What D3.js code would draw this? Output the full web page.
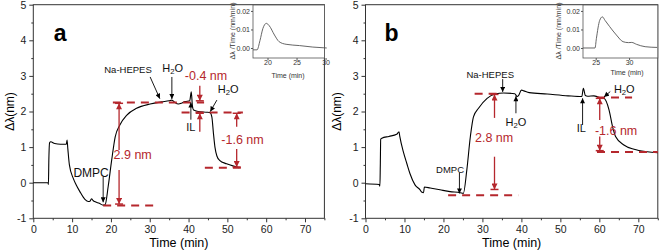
<!DOCTYPE html>
<html>
<head>
<meta charset="utf-8">
<script src="https://cdn.jsdelivr.net/npm/d3@7"></script>
<style>
body { margin: 0; background: #fff; }
svg { display: block; font-family: "Liberation Sans", Arial, sans-serif; }
</style>
</head>
<body>
<script>
// main traces
var timeA  = [0, 3.8, 3.9, 4.0, 4.2, 4.5, 5.5, 7, 8.5, 8.7, 8.9, 9.3, 10.3, 11, 12, 13.3, 14.2, 14.6, 15.0, 15.4, 15.8, 17, 18, 18.5, 19.3, 20.2, 21.1, 22.3, 24.1, 26.6, 30.1, 33.1, 35, 35.7, 36.5, 37.4, 38.3, 39.1, 40.3, 40.7, 41.0, 41.3, 42.5, 44.7, 45.5, 46.0, 46.4, 46.8, 47.3, 48, 49.8, 52.4, 53];
var shiftA = [0, 0, -0.05, 0.6, 1.12, 1.15, 1.1, 1.08, 1.08, 1.2, 0.95, 0.5, 0.12, -0.05, -0.25, -0.47, -0.53, -0.52, -0.45, -0.5, -0.53, -0.58, -0.63, -0.62, -0.1, 0.64, 1.29, 1.62, 1.9, 2.09, 2.21, 2.27, 2.3, 2.32, 2.25, 2.21, 2.24, 2.28, 2.3, 2.55, 2.15, 2.04, 2.0, 1.98, 1.97, 1.85, 1.4, 1.0, 0.75, 0.63, 0.53, 0.44, 0.42];

var timeB  = [0, 3.5, 3.7, 3.8, 3.9, 4.2, 6, 8, 8.6, 8.8, 9.7, 10.6, 11.4, 12.7, 14, 14.4, 14.9, 15.1, 16.6, 19.1, 21.7, 24.3, 25.1, 26.0, 26.9, 27.7, 29, 31.2, 33.3, 35.4, 38.3, 38.9, 39.3, 40.0, 40.6, 42, 46.6, 52, 55.5, 55.9, 56.4, 57, 58.6, 59.9, 61.2, 62.5, 63.4, 64.2, 66.3, 68.9, 72.3, 75];
var shiftB = [-0.03, -0.05, -0.1, 0.5, 1.22, 1.25, 1.3, 1.36, 1.43, 1.3, 0.87, 0.54, 0.26, -0.06, -0.2, -0.26, -0.28, -0.12, -0.15, -0.2, -0.25, -0.28, -0.3, 0.36, 1.29, 1.85, 2.09, 2.37, 2.49, 2.52, 2.5, 2.42, 2.45, 2.6, 2.58, 2.53, 2.49, 2.44, 2.42, 2.65, 2.45, 2.43, 2.44, 2.4, 2.37, 2.04, 1.57, 1.29, 1.06, 0.94, 0.87, 0.84];

// inset derivative traces
var insetTimeA = [17.5, 18.2, 18.7, 19.2, 19.8, 20.3, 21.2, 22, 23.2, 25.5, 27.8, 30.2];
var insetRateA = [-0.001, -0.001, 0.004, 0.0105, 0.0133, 0.012, 0.007, 0.0034, 0.002, 0.0013, 0.0005, 0.0];
var insetTimeB = [23.1, 24.9, 25.1, 25.6, 26.0, 26.4, 27.1, 28.1, 29.1, 29.9, 30.4, 31.1, 32.4, 34.2];
var insetRateB = [0, 0, 0.005, 0.0149, 0.0168, 0.0149, 0.0115, 0.007, 0.0034, 0.0029, 0.003, 0.002, 0.0007, 0.0003];

var xTicks = [0, 10, 20, 30, 40, 50, 60, 70];
var xMinor = [5, 15, 25, 35, 45, 55, 65, 75];
var yTicks = [-1, 0, 1, 2, 3, 4, 5];
var yMinor = [-0.5, 0.5, 1.5, 2.5, 3.5, 4.5];
var insetYTicks = [0, 0.01, 0.02];

// annotation levels (time from, time to, shift) and arrows, in data units
var levelsA = [[20.5, 44, 2.25], [18, 31.5, -0.64], [38.2, 54, 1.97], [44.2, 54, 0.42]];
var redArrowsA = [[22.1, 0.92, 2.23], [22.1, 0.36, -0.6], [42.9, 2.72, 2.3], [42.9, 1.43, 1.95],
                  [52.4, 1.57, 1.95], [52.4, 0.95, 0.44]];
var blackArrowsA = [[18, 0.16, 18, -0.55], [30.1, 2.97, 32.6, 2.36], [35.7, 2.97, 35.7, 2.35],
                    [40.6, 1.77, 40.6, 2.25], [47.3, 2.32, 45.6, 2.0]];
var labelsA = [["DMPC", 14.9, 0.27, 12], ["Na-HEPES", 24.4, 3.17, 9.5], ["H2O", 35.9, 3.22, 11],
               ["IL", 40.6, 1.57, 11], ["H2O", 50.2, 2.63, 11]];
var redLabelsA = [["2.9 nm", 25.6, 0.78], ["-0.4 nm", 44.5, 3.0], ["-1.6 nm", 53.9, 1.2]];

var levelsB = [[28, 34.6, 2.5], [21.2, 39.2, -0.35], [59.4, 68.4, 2.39], [59.4, 75, 0.86]];
var redArrowsB = [[33.1, 1.82, 2.48], [33.1, 0.73, -0.19], [60.1, 1.76, 2.37], [60.1, 1.3, 0.9]];
var blackArrowsB = [[24.1, 0.28, 24.1, -0.3], [35.2, 2.91, 35.2, 2.55], [38.6, 1.95, 38.6, 2.43],
                    [55.7, 1.62, 55.7, 2.37], [62.8, 2.56, 61.2, 2.41]];
var labelsB = [["DMPC", 21.7, 0.38, 9.5], ["Na-HEPES", 32, 3.05, 9.5], ["H2O", 38.6, 1.71, 11],
               ["IL", 55.4, 1.53, 11], ["H2O", 66.4, 2.62, 11]];
var redLabelsB = [["2.8 nm", 33, 1.25], ["-1.6 nm", 64.3, 1.45]];

var red = "#b5272d";
var axisColor = "#333";

var svg = d3.select("body").append("svg")
    .attr("width", 660)
    .attr("height", 252);

var defs = svg.append("defs");
defs.append("marker").attr("id", "headK")
    .attr("viewBox", "0 0 10 10").attr("refX", 10).attr("refY", 5)
    .attr("markerWidth", 6).attr("markerHeight", 5).attr("markerUnits", "userSpaceOnUse")
    .attr("orient", "auto")
  .append("path").attr("d", "M0,0L10,5L0,10Z").attr("fill", "#000");
defs.append("marker").attr("id", "headR")
    .attr("viewBox", "0 0 10 10").attr("refX", 10).attr("refY", 5)
    .attr("markerWidth", 7).attr("markerHeight", 6).attr("markerUnits", "userSpaceOnUse")
    .attr("orient", "auto")
  .append("path").attr("d", "M0,0L10,5L0,10Z").attr("fill", red);

function addText(g, str, x, y, size, color) {
  var t = g.append("text")
      .attr("x", x).attr("y", y)
      .attr("text-anchor", "middle")
      .attr("dominant-baseline", "central")
      .style("font-size", size + "px")
      .attr("fill", color);
  if (str == "H2O") {
    t.append("tspan").text("H");
    t.append("tspan").text("2").attr("dy", 3).style("font-size", (size * 0.7) + "px");
    t.append("tspan").text("O").attr("dy", -3);
  } else {
    t.text(str);
  }
  return t;
}

function panel(cfg) {
  var g = svg.append("g");
  var x = d3.scaleLinear().domain([0, 75]).range([cfg.x0, cfg.x1]);
  var y = d3.scaleLinear().domain([-1, 5]).range([218.3, 4.7]);

  g.append("g").attr("transform", "translate(0," + y(-1) + ")")
      .call(d3.axisBottom(x).tickValues(xTicks).tickSize(4).tickFormat(function(d) { return d; }))
      .call(function(s) { s.select(".domain").remove(); });
  g.append("g").attr("transform", "translate(0," + y(-1) + ")")
      .call(d3.axisBottom(x).tickValues(xMinor).tickSize(2).tickFormat(""))
      .call(function(s) { s.select(".domain").remove(); });
  g.append("g").attr("transform", "translate(" + cfg.x0 + ",0)")
      .call(d3.axisLeft(y).tickValues(yTicks).tickSize(4).tickFormat(function(d) { return d; }))
      .call(function(s) { s.select(".domain").remove(); });
  g.append("g").attr("transform", "translate(" + cfg.x0 + ",0)")
      .call(d3.axisLeft(y).tickValues(yMinor).tickSize(2).tickFormat(""))
      .call(function(s) { s.select(".domain").remove(); });

  g.selectAll(".tick line").attr("stroke", axisColor);
  g.selectAll(".tick text").style("font-size", "10.5px").attr("fill", "#222")
      .style("font-family", "'Liberation Sans', Arial, sans-serif");

  g.append("rect")
      .attr("x", cfg.x0).attr("y", y(5))
      .attr("width", cfg.x1 - cfg.x0).attr("height", y(-1) - y(5))
      .attr("fill", "none").attr("stroke", axisColor).attr("stroke-width", 1);

  g.append("text")
      .attr("x", (cfg.x0 + cfg.x1) / 2).attr("y", 247)
      .attr("text-anchor", "middle")
      .style("font-size", "12.5px")
      .text("Time (min)");
  g.append("text")
      .attr("transform", "translate(" + cfg.ylab + "," + ((y(5) + y(-1)) / 2) + ") rotate(-90)")
      .attr("text-anchor", "middle")
      .attr("dominant-baseline", "central")
      .style("font-size", "12px")
      .text("Δλ(nm)");

  var line = d3.line()
      .x(function(d) { return x(d[0]); })
      .y(function(d) { return y(d[1]); })
      .curve(d3.curveMonotoneX);
  g.append("path")
      .datum(d3.zip(cfg.time, cfg.shift))
      .attr("d", line)
      .attr("fill", "none")
      .attr("stroke", "#000")
      .attr("stroke-width", 1.1);

  // red dashed levels
  g.selectAll(".level").data(cfg.levels).enter().append("line")
      .attr("x1", function(d) { return x(d[0]); })
      .attr("x2", function(d) { return x(d[1]); })
      .attr("y1", function(d) { return y(d[2]); })
      .attr("y2", function(d) { return y(d[2]); })
      .attr("stroke", red).attr("stroke-width", 2)
      .attr("stroke-dasharray", "8,6");

  g.selectAll(".rarrow").data(cfg.redArrows).enter().append("line")
      .attr("x1", function(d) { return x(d[0]); })
      .attr("x2", function(d) { return x(d[0]); })
      .attr("y1", function(d) { return y(d[1]); })
      .attr("y2", function(d) { return y(d[2]); })
      .attr("stroke", red).attr("stroke-width", 1.3)
      .attr("marker-end", "url(#headR)");
  // little end bars where the arrows meet a level
  g.selectAll(".rbar").data(cfg.redArrows).enter().append("line")
      .attr("x1", function(d) { return x(d[0]) - 4; })
      .attr("x2", function(d) { return x(d[0]) + 4; })
      .attr("y1", function(d) { return y(d[2]); })
      .attr("y2", function(d) { return y(d[2]); })
      .attr("stroke", red).attr("stroke-width", 1.5);

  g.selectAll(".karrow").data(cfg.blackArrows).enter().append("line")
      .attr("x1", function(d) { return x(d[0]); })
      .attr("y1", function(d) { return y(d[1]); })
      .attr("x2", function(d) { return x(d[2]); })
      .attr("y2", function(d) { return y(d[3]); })
      .attr("stroke", "#000").attr("stroke-width", 0.9)
      .attr("marker-end", "url(#headK)");

  cfg.labels.forEach(function(d) {
    addText(g, d[0], x(d[1]), y(d[2]), d[3], "#111");
  });
  cfg.redLabels.forEach(function(d) {
    addText(g, d[0], x(d[1]), y(d[2]), 12.5, red);
  });

  g.append("text")
      .attr("x", x(cfg.tag[0])).attr("y", y(cfg.tag[1]))
      .attr("text-anchor", "middle")
      .attr("dominant-baseline", "central")
      .style("font-size", "23px").style("font-weight", "bold")
      .text(cfg.tag[2]);
}

function inset(cfg) {
  var g = svg.append("g");
  var x = d3.scaleLinear().domain(cfg.dom).range([cfg.x0, cfg.x1]);
  var y = d3.scaleLinear().domain([-0.0054, 0.0232]).range([58, 5]);

  g.append("rect")
      .attr("x", cfg.x0).attr("y", 5).attr("width", cfg.x1 - cfg.x0).attr("height", 53)
      .attr("fill", "#fff").attr("stroke", "#555").attr("stroke-width", 0.8);

  g.append("g").attr("transform", "translate(0,58)")
      .call(d3.axisBottom(x).tickValues(cfg.ticks).tickSize(2).tickPadding(0).tickFormat(function(d) { return d; }))
      .call(function(s) { s.select(".domain").remove(); });
  g.append("g").attr("transform", "translate(" + cfg.x0 + ",0)")
      .call(d3.axisLeft(y).tickValues(insetYTicks).tickSize(2).tickPadding(1).tickFormat(d3.format(".2f")))
      .call(function(s) { s.select(".domain").remove(); });
  g.selectAll(".tick line").attr("stroke", "#555");
  g.selectAll(".tick text").style("font-size", "7px").attr("fill", "#333")
      .style("font-family", "'Liberation Sans', Arial, sans-serif");

  g.append("text")
      .attr("x", cfg.titleX).attr("y", cfg.titleY)
      .attr("text-anchor", "middle").attr("dominant-baseline", "central")
      .style("font-size", "7px").attr("fill", "#333")
      .text("Time (min)");
  g.append("text")
      .attr("transform", "translate(" + cfg.ylab + ",31) rotate(-90)")
      .attr("text-anchor", "middle").attr("dominant-baseline", "central")
      .style("font-size", "7px").attr("fill", "#333")
      .text("Δλ /Time (nm/min)");

  g.append("path")
      .datum(d3.zip(cfg.time, cfg.rate))
      .attr("d", d3.line()
          .x(function(d) { return x(d[0]); })
          .y(function(d) { return y(d[1]); })
          .curve(d3.curveMonotoneX))
      .attr("fill", "none").attr("stroke", "#555").attr("stroke-width", 0.9);
}

panel({x0: 33.3, x1: 324.4, ylab: 10, time: timeA, shift: shiftA,
       levels: levelsA, redArrows: redArrowsA, blackArrows: blackArrowsA,
       labels: labelsA, redLabels: redLabelsA, tag: [6.9, 4.2, "a"]});
panel({x0: 365.5, x1: 657.8, ylab: 337, time: timeB, shift: shiftB,
       levels: levelsB, redArrows: redArrowsB, blackArrows: blackArrowsB,
       labels: labelsB, redLabels: redLabelsB, tag: [6.7, 4.2, "b"]});

inset({x0: 253, x1: 324.4, dom: [17.5, 29.8], ticks: [20, 25, 30], time: insetTimeA, rate: insetRateA,
       titleX: 288, titleY: 75, ylab: 232});
inset({x0: 583, x1: 657.8, dom: [23.1, 34.3], ticks: [25, 30], time: insetTimeB, rate: insetRateB,
       titleX: 627, titleY: 72, ylab: 558});
</script>
</body>
</html>
